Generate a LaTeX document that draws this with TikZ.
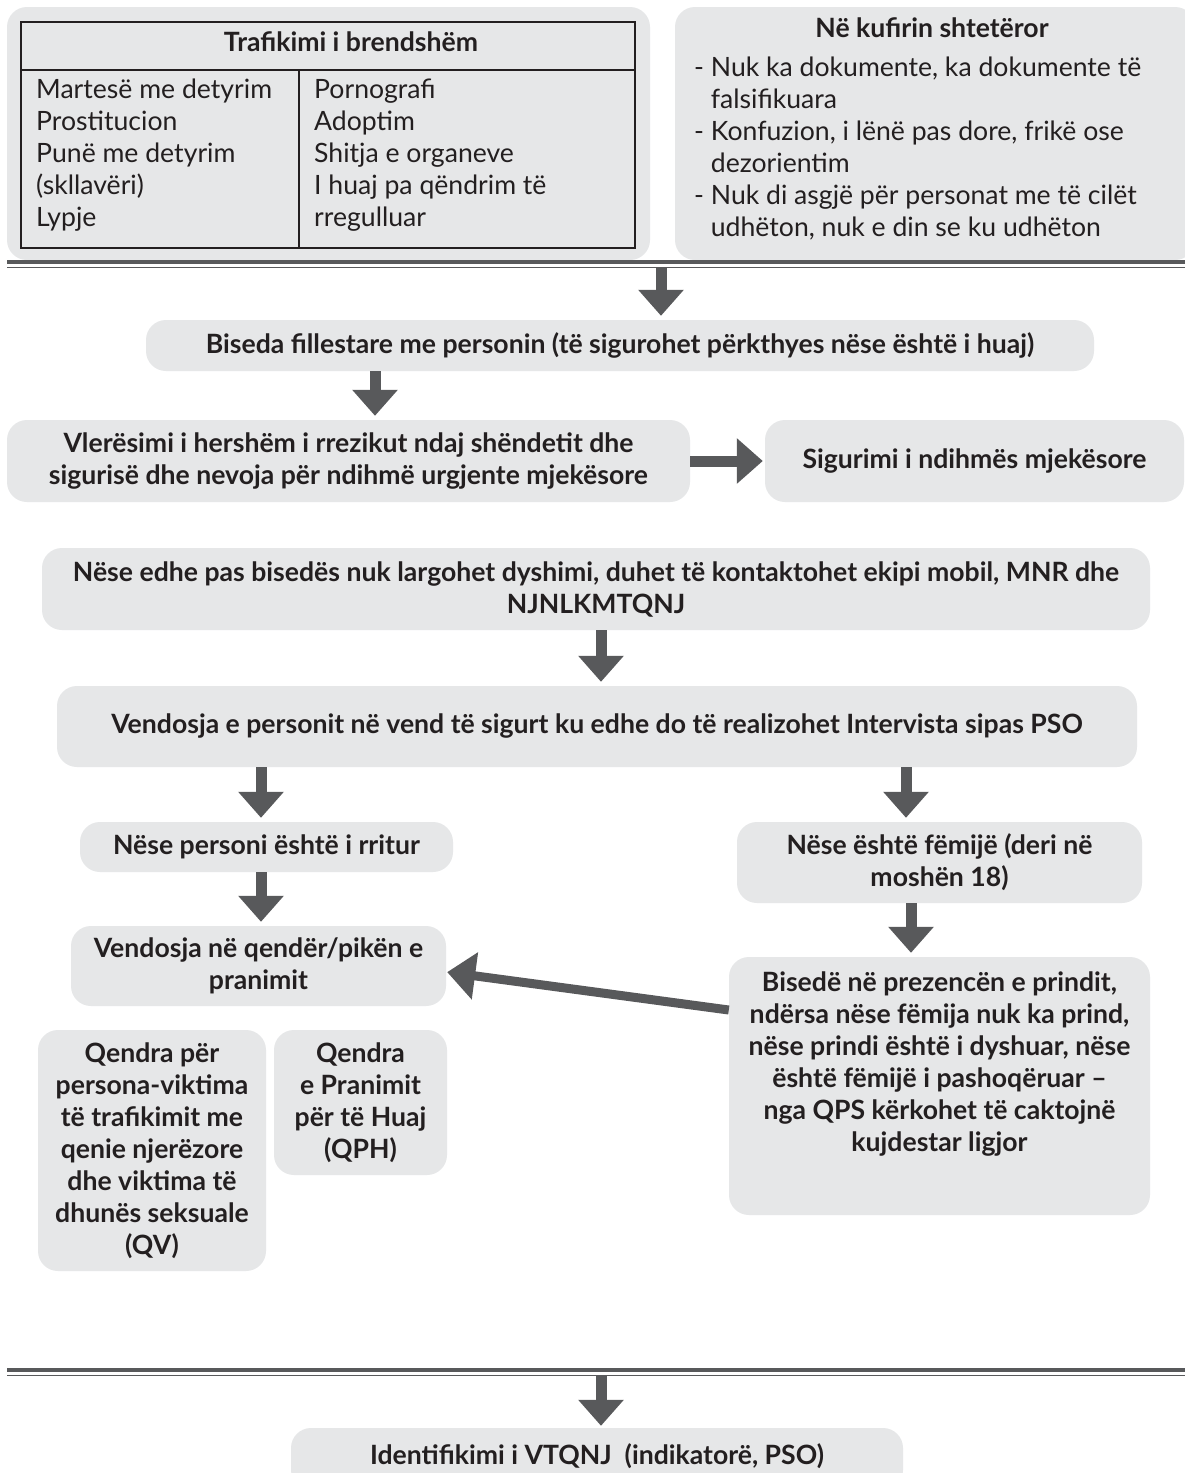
\documentclass[tikz,border=0pt]{standalone}
\usepackage{fontspec}
\setmainfont{Lato}
\usetikzlibrary{arrows.meta}
\definecolor{boxgray}{HTML}{E6E7E8}
\definecolor{arrgray}{HTML}{58595B}
\definecolor{txt}{HTML}{231F20}
\begin{document}
\begin{tikzpicture}[x=1pt,y=-1pt,
  gbox/.style={fill=boxgray, rounded corners=20pt, inner sep=0pt, text=txt,
    font=\fontsize{26.6}{32}\selectfont\bfseries, align=center},
  cell/.style={draw=txt, line width=1.3pt, inner sep=0pt},
  plain/.style={inner sep=0pt, text=txt, font=\fontsize{26.6}{32}\selectfont, align=left},
  boldtxt/.style={inner sep=0pt, text=txt, font=\fontsize{26.6}{32}\selectfont\bfseries, align=center},
  arr/.style={draw=arrgray, line width=11pt, -{Triangle[length=26pt,width=44pt]}, shorten >=4pt},
  thickrule/.style={draw=arrgray, line width=4pt},
  thinrule/.style={draw=arrgray, line width=1.5pt}]
\useasboundingbox (0,0) rectangle (1185,1473);
\fill[white] (0,0) rectangle (1185,1473);

% top-left box with table
\node[gbox, minimum width=643, minimum height=253] (tl) at (328.5,133.5) {};
\node[cell, minimum width=614, minimum height=48] (th) at (328,46) {};
\node[cell, minimum width=278, minimum height=178] (tc1) at (160,159) {};
\node[cell, minimum width=336, minimum height=178] (tc2) at (467,159) {};
\node[boldtxt] (tht) at (351,42) {Trafikimi i brendshëm};
\node[plain, anchor=west] (tc1t) at (36,155) {Martesë me detyrim\\Prostitucion\\Punë me detyrim\\(skllavëri)\\Lypje};
\node[plain, anchor=west] (tc2t) at (314,155) {Pornografi\\Adoptim\\Shitja e organeve\\I huaj pa qëndrim të\\rregulluar};

% top-right box
\node[gbox, minimum width=520, minimum height=253] (tr) at (935,133.5) {};
\node[boldtxt] (trt) at (932,28) {Në kufirin shtetëror};
\node[plain, anchor=west] (trl) at (694,149) {- Nuk ka dokumente, ka dokumente të\\\phantom{- }falsifikuara\\- Konfuzion, i lënë pas dore, frikë ose\\\phantom{- }dezorientim\\- Nuk di asgjë për personat me të cilët\\\phantom{- }udhëton, nuk e din se ku udhëton};

% top double rule
\coordinate (r1a) at (7,262);
\coordinate (r1b) at (1185,262);
\coordinate (r1c) at (7,267.5);
\coordinate (r1d) at (1185,267.5);
\draw[thickrule] (r1a) -- (r1b);
\draw[thinrule] (r1c) -- (r1d);

% flow boxes
\node[gbox, minimum width=948, minimum height=51] (b1) at (620,345.5) {Biseda fillestare me personin (të sigurohet përkthyes nëse është i huaj)};
\node[gbox, minimum width=683, minimum height=82] (b2) at (348.5,461) {Vlerësimi i hershëm i rrezikut ndaj shëndetit dhe\\sigurisë dhe nevoja për ndihmë urgjente mjekësore};
\node[gbox, minimum width=419, minimum height=82] (b3) at (974.5,461) {Sigurimi i ndihmës mjekësore};
\node[gbox, minimum width=1108, minimum height=82] (b4) at (596,589) {Nëse edhe pas bisedës nuk largohet dyshimi, duhet të kontaktohet ekipi mobil, MNR dhe\\NJNLKMTQNJ};
\node[gbox, minimum width=1080, minimum height=81] (b5) at (597,726.5) {Vendosja e personit në vend të sigurt ku edhe do të realizohet Intervista sipas PSO};
\node[gbox, minimum width=373, minimum height=50] (b6) at (266.5,847) {Nëse personi është i rritur};
\node[gbox, minimum width=405, minimum height=81] (b7) at (939.5,862.5) {Nëse është fëmijë (deri në\\moshën 18)};
\node[gbox, minimum width=375, minimum height=80] (b8) at (258.5,966) {Vendosja në qendër/pikën e\\pranimit};
\node[gbox, minimum width=421, minimum height=258] (b9) at (939.5,1086) {};
\node[boldtxt] (b9t) at (939.5,1064) {Bisedë në prezencën e prindit,\\ndërsa nëse fëmija nuk ka prind,\\nëse prindi është i dyshuar, nëse\\është fëmijë i pashoqëruar –\\nga QPS kërkohet të caktojnë\\kujdestar ligjor};
\node[gbox, minimum width=228, minimum height=241] (b10) at (152,1150.5) {Qendra për\\persona-viktima\\të trafikimit me\\qenie njerëzore\\dhe viktima të\\dhunës seksuale\\(QV)};
\node[gbox, minimum width=173, minimum height=145] (b11) at (360.5,1102.5) {Qendra\\e Pranimit\\për të Huaj\\(QPH)};

% bottom double rule
\coordinate (r2a) at (7,1370);
\coordinate (r2b) at (1185,1370);
\coordinate (r2c) at (7,1375.5);
\coordinate (r2d) at (1185,1375.5);
\draw[thickrule] (r2a) -- (r2b);
\draw[thinrule] (r2c) -- (r2d);

\node[gbox, minimum width=612, minimum height=62] (b12) at (597,1459) {};
\node[boldtxt] (b12t) at (597,1456) {Identifikimi i VTQNJ\ \ (indikatorë, PSO)};

% arrows
\coordinate (a1s) at (661,268);
\draw[arr] (a1s) -- (a1s |- b1.north);
\draw[arr] (b1.south -| 375,0) -- (b2.north -| 375,0);
\draw[arr, shorten >=2pt] (b2.east) -- (b3.west);
\draw[arr] (b4.south -| 601,0) -- (b5.north -| 601,0);
\draw[arr] (b5.south -| 261,0) -- (b6.north -| 261,0);
\draw[arr] (b5.south -| 906,0) -- (b7.north -| 906,0);
\draw[arr] (b6.south -| 261,0) -- (b8.north -| 261,0);
\draw[arr] (b7.south -| 911,0) -- (b9.north -| 911,0);
\draw[draw=arrgray, line width=9pt, -{Triangle[length=28pt,width=46pt]}, shorten >=1pt] ([yshift=76pt]b9.west) -- ([yshift=-6pt]b8.east);
\coordinate (a2s) at (601,1376);
\draw[arr, shorten >=2pt] (a2s) -- (a2s |- b12.north);
\end{tikzpicture}
\end{document}
